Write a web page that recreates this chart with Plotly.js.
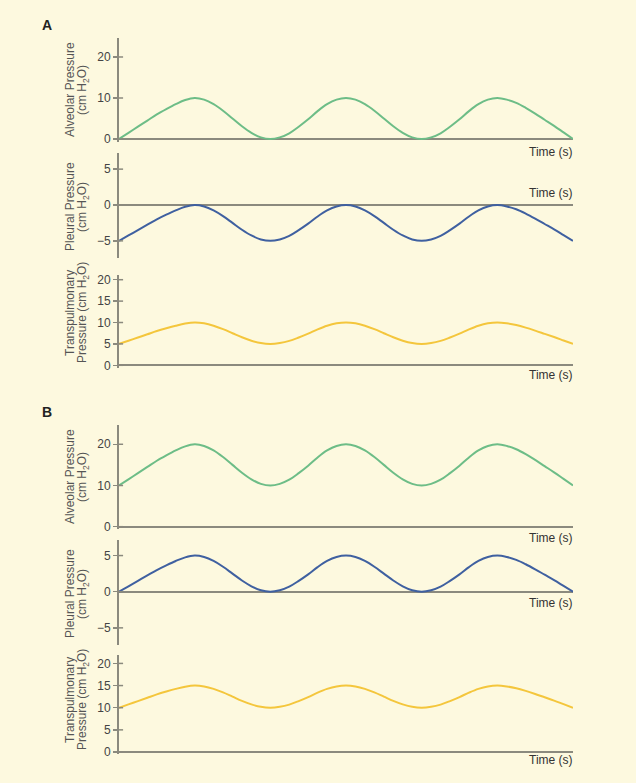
<!DOCTYPE html>
<html>
<head>
<meta charset="utf-8">
<script src="https://cdn.plot.ly/plotly-3.0.1.min.js"></script>
<style>html,body{margin:0;padding:0;background:#fdf9df;}#chart{width:636px;height:783px;}</style>
</head>
<body>
<div id="chart"></div>
<script>
// ---- data ----
const time = [0,0.125,0.25,0.375,0.5,0.625,0.75,0.875,1,1.125,1.25,1.375,1.5,1.625,1.75,1.875,2,2.125,2.25,2.375,2.5,2.625,2.75,2.875,3,3.125,3.25,3.375,3.5,3.625,3.75,3.875,4,4.125,4.25,4.375,4.5,4.625,4.75,4.875,5,5.125,5.25,5.375,5.5,5.625,5.75,5.875,6];

const alveolarA = [0,1.5,3,4.5,6,7.3,8.5,9.5,10, 9.6,8.5,6.9,5,3.1,1.5,0.4,0, 0.4,1.4,3,4.8,6.8,8.5,9.6,10, 9.6,8.5,6.9,5,3.1,1.5,0.4,0, 0.4,1.4,3,4.8,6.8,8.5,9.6,10, 9.6,8.8,7.6,6.2,4.7,3.2,1.6,0];
const pleuralA = [-5,-4.25,-3.5,-2.75,-2,-1.35,-0.75,-0.25,0, -0.2,-0.75,-1.55,-2.5,-3.45,-4.25,-4.8,-5, -4.8,-4.3,-3.5,-2.6,-1.6,-0.75,-0.2,0, -0.2,-0.75,-1.55,-2.5,-3.45,-4.25,-4.8,-5, -4.8,-4.3,-3.5,-2.6,-1.6,-0.75,-0.2,0, -0.2,-0.6,-1.2,-1.9,-2.65,-3.4,-4.2,-5];
const transA = [5,5.75,6.5,7.25,8,8.65,9.25,9.75,10, 9.8,9.25,8.45,7.5,6.55,5.75,5.2,5, 5.2,5.7,6.5,7.4,8.4,9.25,9.8,10, 9.8,9.25,8.45,7.5,6.55,5.75,5.2,5, 5.2,5.7,6.5,7.4,8.4,9.25,9.8,10, 9.8,9.4,8.8,8.1,7.35,6.6,5.8,5];

const alveolarB = [10,11.5,13,14.5,16,17.3,18.5,19.5,20, 19.6,18.5,16.9,15,13.1,11.5,10.4,10, 10.4,11.4,13,14.8,16.8,18.5,19.6,20, 19.6,18.5,16.9,15,13.1,11.5,10.4,10, 10.4,11.4,13,14.8,16.8,18.5,19.6,20, 19.6,18.8,17.6,16.2,14.7,13.2,11.6,10];
const pleuralB = [0,0.75,1.5,2.25,3,3.65,4.25,4.75,5, 4.8,4.25,3.45,2.5,1.55,0.75,0.2,0, 0.2,0.7,1.5,2.4,3.4,4.25,4.8,5, 4.8,4.25,3.45,2.5,1.55,0.75,0.2,0, 0.2,0.7,1.5,2.4,3.4,4.25,4.8,5, 4.8,4.4,3.8,3.1,2.35,1.6,0.8,0];
const transB = [10,10.75,11.5,12.25,13,13.65,14.25,14.75,15, 14.8,14.25,13.45,12.5,11.55,10.75,10.2,10, 10.2,10.7,11.5,12.4,13.4,14.25,14.8,15, 14.8,14.25,13.45,12.5,11.55,10.75,10.2,10, 10.2,10.7,11.5,12.4,13.4,14.25,14.8,15, 14.8,14.4,13.8,13.1,12.35,11.6,10.8,10];

const ticksAlveolar = [0,10,20];
const ticksPleural = [-5,0,5];
const ticksTrans = [0,5,10,15,20];

const labelAlveolar = ["Alveolar Pressure", "(cm H<sub>2</sub>O)"];
const labelPleural = ["Pleural Pressure", "(cm H<sub>2</sub>O)"];
const labelTrans = ["Transpulmonary", "Pressure (cm H<sub>2</sub>O)"];
const timeLabel = "Time (s)";
const panelLabels = ["A", "B"];

// ---- styling ----
const W = 636, H = 783;
const GREEN = "#6dbd87", BLUE = "#3f60a0", YELLOW = "#f4c63c", AXIS = "#8b8a7e";
const FONT = "Liberation Sans, Arial, sans-serif";
const px = v => v / W;
const py = v => 1 - v / H;
const fmt = v => (v < 0 ? "\u2212" + Math.abs(v) : String(v));

const panels = [
  {y: alveolarA, color: GREEN, ticks: ticksAlveolar, label: labelAlveolar, top: 38, bot: 142, range: [-0.73, 24.63], titleY: 90, timeY: 152},
  {y: pleuralA, color: BLUE, ticks: ticksPleural, label: labelPleural, top: 153, bot: 258, range: [-7.39, 7.25], titleY: 207, timeY: 193},
  {y: transA, color: YELLOW, ticks: ticksTrans, label: labelTrans, top: 275, bot: 368, range: [-0.63, 21.1], titleY: 313, timeY: 375},
  {y: alveolarB, color: GREEN, ticks: ticksAlveolar, label: labelAlveolar, top: 425, bot: 529, range: [-0.56, 24.68], titleY: 477, timeY: 538},
  {y: pleuralB, color: BLUE, ticks: ticksPleural, label: labelPleural, top: 540, bot: 645, range: [-7.37, 7.15], titleY: 594, timeY: 603},
  {y: transB, color: YELLOW, ticks: ticksTrans, label: labelTrans, top: 655, bot: 754, range: [-0.45, 21.9], titleY: 700, timeY: 760}
];

const traces = [];
const layout = {
  width: W, height: H,
  margin: {l: 0, r: 0, t: 0, b: 0},
  paper_bgcolor: "#fdf9df",
  plot_bgcolor: "rgba(0,0,0,0)",
  showlegend: false,
  font: {family: FONT, color: "#444"},
  annotations: [],
  shapes: []
};

panels.forEach((p, i) => {
  const n = i + 1;
  const xa = n === 1 ? "x" : "x" + n;
  const ya = n === 1 ? "y" : "y" + n;
  traces.push({
    x: time, y: p.y, xaxis: xa, yaxis: ya,
    type: "scatter", mode: "lines",
    line: {color: p.color, width: 2, shape: "spline", smoothing: 1},
    hoverinfo: "skip"
  });
  layout["xaxis" + (n === 1 ? "" : n)] = {
    domain: [px(119), px(573)], anchor: ya, range: [0, 6],
    showline: false, showgrid: false, zeroline: false, showticklabels: false, ticks: ""
  };
  layout["yaxis" + (n === 1 ? "" : n)] = {
    domain: [py(p.bot), py(p.top)], anchor: xa, range: p.range,
    tickmode: "array", tickvals: p.ticks, ticktext: p.ticks.map(fmt),
    ticks: "outside", ticklen: 4, tickwidth: 1.5, tickcolor: AXIS,
    tickfont: {size: 12, color: "#444", family: FONT},
    showline: true, linecolor: AXIS, linewidth: 2,
    zeroline: true, zerolinecolor: AXIS, zerolinewidth: 2,
    showgrid: false
  };
  // inner half of the crossing tick marks
  p.ticks.forEach(v => {
    layout.shapes.push({
      type: "line", xref: xa + " domain", yref: ya,
      x0: 0, x1: 0.009, y0: v, y1: v,
      line: {color: AXIS, width: 1.5}
    });
  });
  // y titles (two lines)
  layout.annotations.push({
    text: p.label[0], xref: "paper", yref: "paper", x: px(70), y: py(p.titleY),
    xanchor: "center", yanchor: "middle", textangle: -90, showarrow: false,
    font: {size: 12, color: "#555", family: FONT}
  });
  layout.annotations.push({
    text: p.label[1], xref: "paper", yref: "paper", x: px(83), y: py(p.titleY),
    xanchor: "center", yanchor: "middle", textangle: -90, showarrow: false,
    font: {size: 12, color: "#555", family: FONT}
  });
  // time labels
  layout.annotations.push({
    text: timeLabel, xref: "paper", yref: "paper", x: px(575), y: py(p.timeY),
    xanchor: "right", yanchor: "middle", showarrow: false,
    font: {size: 12, color: "#333", family: FONT}
  });
});

// panel letters
layout.annotations.push({
  text: "<b>" + panelLabels[0] + "</b>", xref: "paper", yref: "paper", x: px(47), y: py(25),
  xanchor: "center", yanchor: "middle", showarrow: false, font: {size: 14, color: "#222", family: FONT}
});
layout.annotations.push({
  text: "<b>" + panelLabels[1] + "</b>", xref: "paper", yref: "paper", x: px(47), y: py(412),
  xanchor: "center", yanchor: "middle", showarrow: false, font: {size: 14, color: "#222", family: FONT}
});

Plotly.newPlot("chart", traces, layout, {displayModeBar: false, staticPlot: true});
</script>
</body>
</html>
